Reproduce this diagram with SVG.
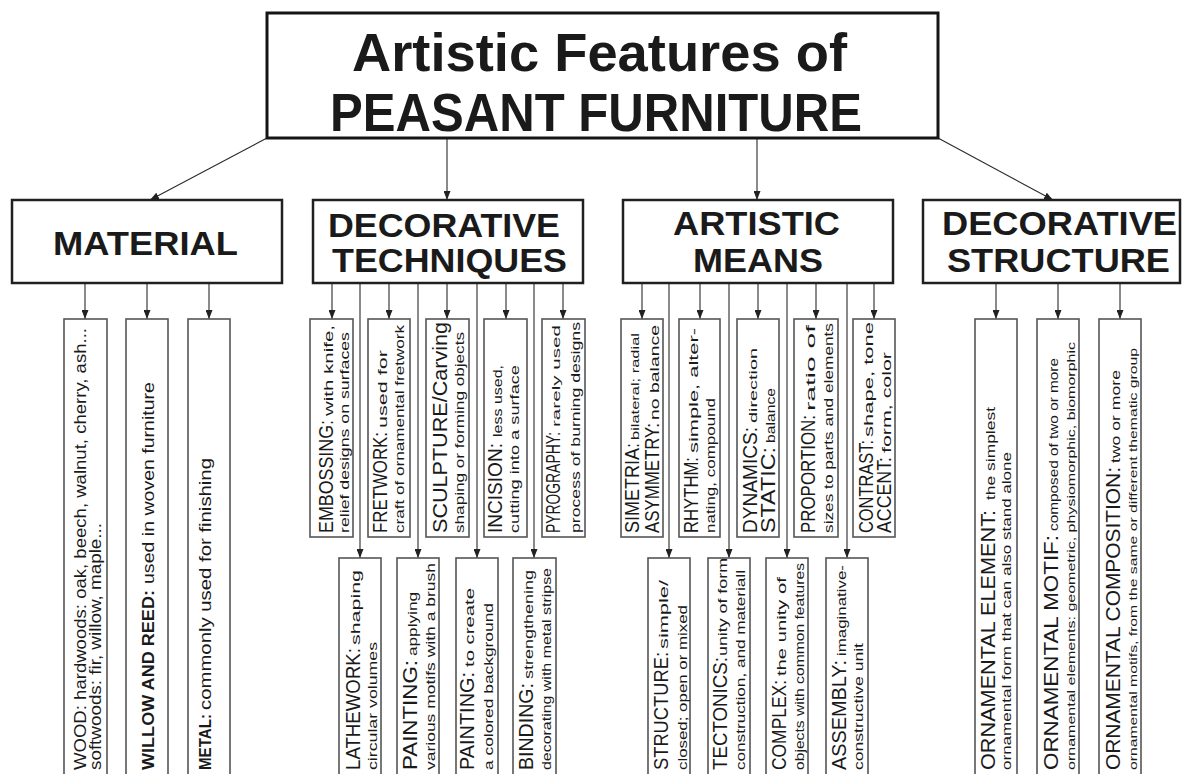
<svg xmlns="http://www.w3.org/2000/svg" width="1182" height="774" viewBox="0 0 1182 774">
<style>
.bg{fill:#ffffff}
.tbox{fill:#fff;stroke:#151515;stroke-width:3}
.hbox{fill:#fff;stroke:#202020;stroke-width:2.5}
.cbox{fill:#fff;stroke:#555;stroke-width:1.6}
.con{stroke:#2a2a2a;stroke-width:1.1;fill:none}
text{font-family:"Liberation Sans",Arial,sans-serif;fill:#1a1a1a}
.title{font-size:54px;font-weight:bold}
.head{font-size:33px;font-weight:bold}
.lb{font-size:20px}
.sm{font-size:12px}
.xs{font-size:10px}
.l2{font-size:13px}
.l2s{font-size:11px}
.mr{font-size:17px}
.mb{font-size:17px;font-weight:bold}
</style>
<defs>
<marker id="ah" markerWidth="9" markerHeight="7" refX="9" refY="3.5" orient="auto" markerUnits="userSpaceOnUse">
<path d="M0,0 L9,3.5 L0,7 z" fill="#222"/>
</marker>
</defs>
<rect class="bg" x="0" y="0" width="1182" height="774"/>

<g id="connectors">
<line class="con" x1="267" y1="138" x2="150" y2="200" marker-end="url(#ah)"/>
<line class="con" x1="447" y1="138" x2="447" y2="200" marker-end="url(#ah)"/>
<line class="con" x1="757" y1="138" x2="757" y2="200" marker-end="url(#ah)"/>
<line class="con" x1="938" y1="138" x2="1053" y2="200" marker-end="url(#ah)"/>
<line class="con" x1="85" y1="283" x2="85" y2="319" marker-end="url(#ah)"/>
<line class="con" x1="147" y1="283" x2="147" y2="319" marker-end="url(#ah)"/>
<line class="con" x1="209" y1="283" x2="209" y2="319" marker-end="url(#ah)"/>
<line class="con" x1="332" y1="283" x2="332" y2="319" marker-end="url(#ah)"/>
<line class="con" x1="389" y1="283" x2="389" y2="319" marker-end="url(#ah)"/>
<line class="con" x1="447" y1="283" x2="447" y2="319" marker-end="url(#ah)"/>
<line class="con" x1="506" y1="283" x2="506" y2="319" marker-end="url(#ah)"/>
<line class="con" x1="563" y1="283" x2="563" y2="319" marker-end="url(#ah)"/>
<line class="con" x1="360" y1="283" x2="360" y2="558" marker-end="url(#ah)"/>
<line class="con" x1="418" y1="283" x2="418" y2="558" marker-end="url(#ah)"/>
<line class="con" x1="477" y1="283" x2="477" y2="558" marker-end="url(#ah)"/>
<line class="con" x1="534" y1="283" x2="534" y2="558" marker-end="url(#ah)"/>
<line class="con" x1="642" y1="283" x2="642" y2="319" marker-end="url(#ah)"/>
<line class="con" x1="700" y1="283" x2="700" y2="319" marker-end="url(#ah)"/>
<line class="con" x1="758" y1="283" x2="758" y2="319" marker-end="url(#ah)"/>
<line class="con" x1="816" y1="283" x2="816" y2="319" marker-end="url(#ah)"/>
<line class="con" x1="874" y1="283" x2="874" y2="319" marker-end="url(#ah)"/>
<line class="con" x1="669" y1="283" x2="669" y2="558" marker-end="url(#ah)"/>
<line class="con" x1="729" y1="283" x2="729" y2="558" marker-end="url(#ah)"/>
<line class="con" x1="787" y1="283" x2="787" y2="558" marker-end="url(#ah)"/>
<line class="con" x1="847" y1="283" x2="847" y2="558" marker-end="url(#ah)"/>
<line class="con" x1="996" y1="283" x2="996" y2="319" marker-end="url(#ah)"/>
<line class="con" x1="1058" y1="283" x2="1058" y2="319" marker-end="url(#ah)"/>
<line class="con" x1="1120" y1="283" x2="1120" y2="319" marker-end="url(#ah)"/>
</g>

<g id="title">
<rect class="tbox" x="267" y="13" width="671" height="125"/>
<text class="title" x="352" y="71" textLength="495" lengthAdjust="spacingAndGlyphs">Artistic Features of</text>
<text class="title" x="330" y="131" textLength="532" lengthAdjust="spacingAndGlyphs">PEASANT FURNITURE</text>
</g>

<g id="material">
<rect class="hbox" x="12" y="200" width="270" height="83"/>
<text class="head" x="53" y="255" textLength="185" lengthAdjust="spacingAndGlyphs">MATERIAL</text>
</g>
<g id="decorative-techniques">
<rect class="hbox" x="313" y="200" width="270" height="83"/>
<text class="head" x="328" y="237" textLength="232" lengthAdjust="spacingAndGlyphs">DECORATIVE</text>
<text class="head" x="332" y="272" textLength="235" lengthAdjust="spacingAndGlyphs">TECHNIQUES</text>
</g>
<g id="artistic-means">
<rect class="hbox" x="623" y="200" width="270" height="83"/>
<text class="head" x="673" y="235" textLength="167" lengthAdjust="spacingAndGlyphs">ARTISTIC</text>
<text class="head" x="693" y="272" textLength="130" lengthAdjust="spacingAndGlyphs">MEANS</text>
</g>
<g id="decorative-structure">
<rect class="hbox" x="923" y="200" width="257" height="83"/>
<text class="head" x="942" y="235" textLength="235" lengthAdjust="spacingAndGlyphs">DECORATIVE</text>
<text class="head" x="947" y="272" textLength="223" lengthAdjust="spacingAndGlyphs">STRUCTURE</text>
</g>

<g id="wood">
<rect class="cbox" x="64" y="319" width="43" height="480"/>
<text class="mr" transform="translate(86,770) rotate(-90)" textLength="442" lengthAdjust="spacingAndGlyphs">WOOD: hardwoods: oak, beech, walnut, cherry, ash...</text>
<text class="mr" transform="translate(101,770) rotate(-90)" textLength="247" lengthAdjust="spacingAndGlyphs">softwoods: fir, willow, maple...</text>
</g>
<g id="willow">
<rect class="cbox" x="126" y="319" width="42" height="480"/>
<text class="mb" transform="translate(154,770) rotate(-90)" textLength="180" lengthAdjust="spacingAndGlyphs">WILLOW AND REED:</text>
<text class="mr" transform="translate(154,584) rotate(-90)" textLength="202" lengthAdjust="spacingAndGlyphs">used in woven furniture</text>
</g>
<g id="metal">
<rect class="cbox" x="188" y="319" width="42" height="480"/>
<text class="mb" transform="translate(211,770) rotate(-90)" textLength="56" lengthAdjust="spacingAndGlyphs">METAL:</text>
<text class="mr" transform="translate(211,710) rotate(-90)" textLength="252" lengthAdjust="spacingAndGlyphs">commonly used for finishing</text>
</g>

<g id="embossing">
<rect class="cbox" x="310" y="319" width="43" height="218"/>
<text class="lb" transform="translate(333,533) rotate(-90)" textLength="113" lengthAdjust="spacingAndGlyphs">EMBOSSING:</text>
<text class="sm" transform="translate(333,416) rotate(-90)" textLength="91" lengthAdjust="spacingAndGlyphs">with knife,</text>
<text class="l2" transform="translate(349,533) rotate(-90)" textLength="201" lengthAdjust="spacingAndGlyphs">relief designs on surfaces</text>
</g>
<g id="fretwork">
<rect class="cbox" x="368" y="319" width="42" height="218"/>
<text class="lb" transform="translate(387,533) rotate(-90)" textLength="101" lengthAdjust="spacingAndGlyphs">FRETWORK:</text>
<text class="sm" transform="translate(387,428) rotate(-90)" textLength="78" lengthAdjust="spacingAndGlyphs">used for</text>
<text class="l2" transform="translate(404,533) rotate(-90)" textLength="208" lengthAdjust="spacingAndGlyphs">craft of ornamental fretwork</text>
</g>
<g id="sculpture">
<rect class="cbox" x="426" y="319" width="43" height="218"/>
<text class="lb" transform="translate(447,533) rotate(-90)" textLength="211" lengthAdjust="spacingAndGlyphs">SCULPTURE/Carving</text>
<text class="l2" transform="translate(464,533) rotate(-90)" textLength="201" lengthAdjust="spacingAndGlyphs">shaping or forming objects</text>
</g>
<g id="incision">
<rect class="cbox" x="484" y="319" width="43" height="218"/>
<text class="lb" transform="translate(502,533) rotate(-90)" textLength="90" lengthAdjust="spacingAndGlyphs">INCISION:</text>
<text class="sm" transform="translate(502,437) rotate(-90)" textLength="72" lengthAdjust="spacingAndGlyphs">less  used,</text>
<text class="l2" transform="translate(519,533) rotate(-90)" textLength="168" lengthAdjust="spacingAndGlyphs">cutting into a surface</text>
</g>
<g id="pyrography">
<rect class="cbox" x="542" y="319" width="43" height="218"/>
<text class="lb" transform="translate(560,533) rotate(-90)" textLength="101" lengthAdjust="spacingAndGlyphs">PYROGRAPHY:</text>
<text class="xs" transform="translate(560,427) rotate(-90)" textLength="102" lengthAdjust="spacingAndGlyphs">rarely used</text>
<text class="l2" transform="translate(580,533) rotate(-90)" textLength="211" lengthAdjust="spacingAndGlyphs">process of burning designs</text>
</g>

<g id="lathework">
<rect class="cbox" x="339" y="558" width="42" height="240"/>
<text class="lb" transform="translate(360,770) rotate(-90)" textLength="122" lengthAdjust="spacingAndGlyphs">LATHEWORK:</text>
<text class="sm" transform="translate(360,645) rotate(-90)" textLength="75" lengthAdjust="spacingAndGlyphs">shaping</text>
<text class="l2" transform="translate(377,770) rotate(-90)" textLength="128" lengthAdjust="spacingAndGlyphs">circular volumes</text>
</g>
<g id="painting-brush">
<rect class="cbox" x="397" y="558" width="42" height="240"/>
<text class="lb" transform="translate(417,770) rotate(-90)" textLength="110" lengthAdjust="spacingAndGlyphs">PAINTING:</text>
<text class="sm" transform="translate(417,656) rotate(-90)" textLength="64" lengthAdjust="spacingAndGlyphs">applying</text>
<text class="l2" transform="translate(435,770) rotate(-90)" textLength="207" lengthAdjust="spacingAndGlyphs">various motifs with a brush</text>
</g>
<g id="painting-background">
<rect class="cbox" x="456" y="558" width="42" height="240"/>
<text class="lb" transform="translate(474,770) rotate(-90)" textLength="98" lengthAdjust="spacingAndGlyphs">PAINTING:</text>
<text class="sm" transform="translate(474,667) rotate(-90)" textLength="79" lengthAdjust="spacingAndGlyphs">to create</text>
<text class="l2" transform="translate(493,770) rotate(-90)" textLength="167" lengthAdjust="spacingAndGlyphs">a colored background</text>
</g>
<g id="binding">
<rect class="cbox" x="513" y="558" width="43" height="240"/>
<text class="lb" transform="translate(533,770) rotate(-90)" textLength="87" lengthAdjust="spacingAndGlyphs">BINDING:</text>
<text class="sm" transform="translate(533,679) rotate(-90)" textLength="109" lengthAdjust="spacingAndGlyphs">strengthening</text>
<text class="l2" transform="translate(551,770) rotate(-90)" textLength="202" lengthAdjust="spacingAndGlyphs">decorating with metal stripse</text>
</g>

<g id="simetria">
<rect class="cbox" x="621" y="319" width="42" height="218"/>
<text class="lb" transform="translate(639,533) rotate(-90)" textLength="90" lengthAdjust="spacingAndGlyphs">SIMETRIA:</text>
<text class="xs" transform="translate(639,440) rotate(-90)" textLength="107" lengthAdjust="spacingAndGlyphs">bilateral; radial</text>
<text class="lb" transform="translate(659,533) rotate(-90)" textLength="110" lengthAdjust="spacingAndGlyphs">ASYMMETRY:</text>
<text class="sm" transform="translate(659,420) rotate(-90)" textLength="95" lengthAdjust="spacingAndGlyphs">no balance</text>
</g>
<g id="rhythm">
<rect class="cbox" x="679" y="319" width="41" height="218"/>
<text class="lb" transform="translate(698,533) rotate(-90)" textLength="76" lengthAdjust="spacingAndGlyphs">RHYTHM:</text>
<text class="sm" transform="translate(698,453) rotate(-90)" textLength="125" lengthAdjust="spacingAndGlyphs">simple, alter-</text>
<text class="l2" transform="translate(715,533) rotate(-90)" textLength="135" lengthAdjust="spacingAndGlyphs">nating, compound</text>
</g>
<g id="dynamics">
<rect class="cbox" x="737" y="319" width="42" height="218"/>
<text class="lb" transform="translate(757,533) rotate(-90)" textLength="106" lengthAdjust="spacingAndGlyphs">DYNAMICS:</text>
<text class="xs" transform="translate(757,423) rotate(-90)" textLength="75" lengthAdjust="spacingAndGlyphs">direction</text>
<text class="lb" transform="translate(775,533) rotate(-90)" textLength="86" lengthAdjust="spacingAndGlyphs">STATIC:</text>
<text class="sm" transform="translate(775,443) rotate(-90)" textLength="55" lengthAdjust="spacingAndGlyphs">balance</text>
</g>
<g id="proportion">
<rect class="cbox" x="794" y="319" width="44" height="218"/>
<text class="lb" transform="translate(815,533) rotate(-90)" textLength="118" lengthAdjust="spacingAndGlyphs">PROPORTION:</text>
<text class="sm" transform="translate(815,411) rotate(-90)" textLength="86" lengthAdjust="spacingAndGlyphs">ratio of</text>
<text class="l2" transform="translate(833,533) rotate(-90)" textLength="210" lengthAdjust="spacingAndGlyphs">sizes to parts and elements</text>
</g>
<g id="contrast">
<rect class="cbox" x="853" y="319" width="42" height="218"/>
<text class="lb" transform="translate(873,533) rotate(-90)" textLength="93" lengthAdjust="spacingAndGlyphs">CONTRAST:</text>
<text class="sm" transform="translate(873,437) rotate(-90)" textLength="115" lengthAdjust="spacingAndGlyphs">shape, tone</text>
<text class="lb" transform="translate(891,533) rotate(-90)" textLength="76" lengthAdjust="spacingAndGlyphs">ACCENT:</text>
<text class="sm" transform="translate(891,453) rotate(-90)" textLength="101" lengthAdjust="spacingAndGlyphs">form, color</text>
</g>

<g id="structure">
<rect class="cbox" x="648" y="558" width="42" height="240"/>
<text class="lb" transform="translate(668,770) rotate(-90)" textLength="118" lengthAdjust="spacingAndGlyphs">STRUCTURE:</text>
<text class="sm" transform="translate(668,649) rotate(-90)" textLength="69" lengthAdjust="spacingAndGlyphs">simple/</text>
<text class="l2" transform="translate(687,770) rotate(-90)" textLength="165" lengthAdjust="spacingAndGlyphs">closed; open or mixed</text>
</g>
<g id="tectonics">
<rect class="cbox" x="708" y="558" width="42" height="240"/>
<text class="lb" transform="translate(727,770) rotate(-90)" textLength="113" lengthAdjust="spacingAndGlyphs">TECTONICS:</text>
<text class="sm" transform="translate(727,656) rotate(-90)" textLength="98" lengthAdjust="spacingAndGlyphs">unity of form</text>
<text class="l2" transform="translate(745,770) rotate(-90)" textLength="200" lengthAdjust="spacingAndGlyphs">construction, and materiall</text>
</g>
<g id="complex">
<rect class="cbox" x="766" y="558" width="42" height="240"/>
<text class="lb" transform="translate(786,770) rotate(-90)" textLength="90" lengthAdjust="spacingAndGlyphs">COMPLEX:</text>
<text class="sm" transform="translate(786,676) rotate(-90)" textLength="99" lengthAdjust="spacingAndGlyphs">the unity of</text>
<text class="l2" transform="translate(804,770) rotate(-90)" textLength="207" lengthAdjust="spacingAndGlyphs">objects with common features</text>
</g>
<g id="assembly">
<rect class="cbox" x="826" y="558" width="42" height="240"/>
<text class="lb" transform="translate(846,770) rotate(-90)" textLength="110" lengthAdjust="spacingAndGlyphs">ASSEMBLY:</text>
<text class="sm" transform="translate(846,656) rotate(-90)" textLength="91" lengthAdjust="spacingAndGlyphs">imaginative-</text>
<text class="l2" transform="translate(863,770) rotate(-90)" textLength="127" lengthAdjust="spacingAndGlyphs">constructive unit</text>
</g>

<g id="ornamental-element">
<rect class="cbox" x="975" y="319" width="42" height="480"/>
<text class="lb" transform="translate(995,770) rotate(-90)" textLength="260" lengthAdjust="spacingAndGlyphs">ORNAMENTAL ELEMENT:</text>
<text class="sm" transform="translate(995,500) rotate(-90)" textLength="93" lengthAdjust="spacingAndGlyphs">the simplest</text>
<text class="l2" transform="translate(1011,770) rotate(-90)" textLength="318" lengthAdjust="spacingAndGlyphs">ornamental form that can also stand alone</text>
</g>
<g id="ornamental-motif">
<rect class="cbox" x="1037" y="319" width="42" height="480"/>
<text class="lb" transform="translate(1058,770) rotate(-90)" textLength="235" lengthAdjust="spacingAndGlyphs">ORNAMENTAL MOTIF:</text>
<text class="sm" transform="translate(1058,531) rotate(-90)" textLength="173" lengthAdjust="spacingAndGlyphs">composed of two or more</text>
<text class="l2s" transform="translate(1075,770) rotate(-90)" textLength="428" lengthAdjust="spacingAndGlyphs">ornamental elements: geometric, physiomorphic, biomorphic</text>
</g>
<g id="ornamental-composition">
<rect class="cbox" x="1099" y="319" width="42" height="480"/>
<text class="lb" transform="translate(1120,770) rotate(-90)" textLength="303" lengthAdjust="spacingAndGlyphs">ORNAMENTAL COMPOSITION:</text>
<text class="sm" transform="translate(1120,463) rotate(-90)" textLength="93" lengthAdjust="spacingAndGlyphs">two or more</text>
<text class="l2s" transform="translate(1137,770) rotate(-90)" textLength="422" lengthAdjust="spacingAndGlyphs">ornamental motifs, from the same or different thematic group</text>
</g>
</svg>
